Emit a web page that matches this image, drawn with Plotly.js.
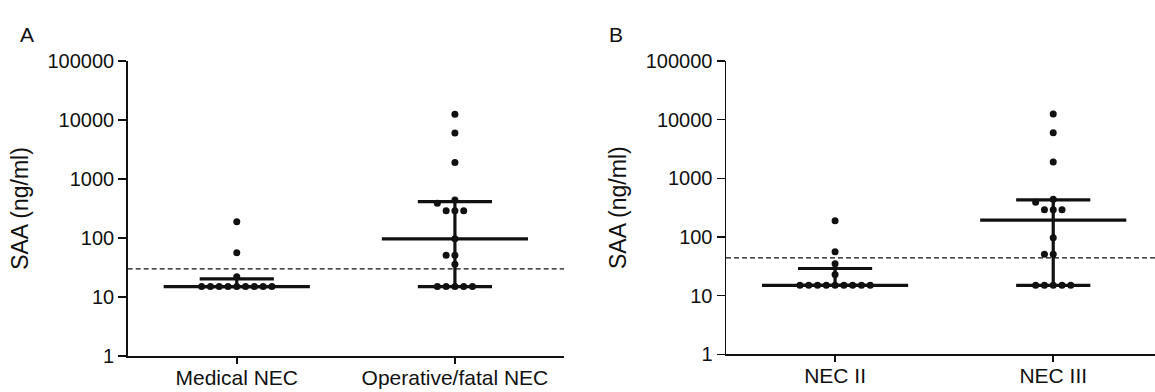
<!DOCTYPE html>
<html><head><meta charset="utf-8">
<script src="https://cdn.plot.ly/plotly-3.0.1.min.js"></script>
<style>html,body{margin:0;padding:0;background:#fff;overflow:hidden}</style>
</head><body><div id="chart" style="width:1155px;height:392px"></div>
<script>
// ---- data ----
const groupsA = ["Medical NEC", "Operative/fatal NEC"];
const medicalNEC = [15,15,15,15,15,15,15,15,15,22,56,189];
const operativeNEC = [15,15,15,15,15,36,51,51,97,290,290,290,390,440,1900,6000,12500];
const groupsB = ["NEC II", "NEC III"];
const necII = [15,15,15,15,15,15,15,15,15,23,35,56,189];
const necIII = [15,15,15,15,15,51,51,97,290,290,290,390,440,1900,6000,12500];
const cutoffA = 30;
const cutoffB = 44;
const yTickVals = [1,10,100,1000,10000,100000];
const yTickText = ["1","10","100","1000","10000","100000"];

// ---- helpers ----
const FONT = "Liberation Sans, Arial, sans-serif";
const INK = "#111";
function quant(arr, p){
  const s=[...arr].sort((a,b)=>a-b), n=s.length, pos=p*(n+1);
  const lo=Math.floor(pos), f=pos-lo;
  if(lo<1) return s[0]; if(lo>=n) return s[n-1];
  return s[lo-1]+f*(s[lo]-s[lo-1]);
}
// simple beeswarm: slots 0,-1,+1,-2,+2... avoiding overlap in pixel space
const PX_PER_DECADE = 59, PX_PER_CAT = 218.4, SLOT_PX = 8.8, MIN_DIST = 8;
function swarm(values){
  const s=[...values].sort((a,b)=>a-b);
  const placed=[]; const out=[];
  const order=[0,-1,1,-2,2,-3,3,-4,4,-5,5,-6,6];
  for(const v of s){
    const py=Math.log10(v)*PX_PER_DECADE;
    for(const k of order){
      const px=k*SLOT_PX;
      if(placed.every(p=>Math.hypot(p[0]-px,p[1]-py)>=MIN_DIST)){
        placed.push([px,py]); out.push({v, off:px/PX_PER_CAT}); break;
      }
    }
  }
  return out;
}
function groupTraces(values, idx, xa, ya){
  const pts=swarm(values);
  const med=quant(values,0.5), q1=quant(values,0.25), q3=quant(values,0.75);
  const line={color:INK,width:3.2};
  const base={xaxis:xa,yaxis:ya,mode:"lines",line,hoverinfo:"skip",showlegend:false};
  return [
    Object.assign({},base,{x:[idx,idx],y:[q1,q3]}),
    Object.assign({},base,{x:[idx-0.17,idx+0.17],y:[q1,q1]}),
    Object.assign({},base,{x:[idx-0.17,idx+0.17],y:[q3,q3]}),
    Object.assign({},base,{x:[idx-0.335,idx+0.335],y:[med,med]}),
    {xaxis:xa,yaxis:ya,type:"scatter",mode:"markers",showlegend:false,
     x:pts.map(p=>idx+p.off), y:pts.map(p=>p.v),
     marker:{color:INK,size:7,line:{width:0}}}
  ];
}
function cutoffTrace(val, xa, ya){
  return {xaxis:xa,yaxis:ya,mode:"lines",x:[-0.5,1.5],y:[val,val],showlegend:false,
    hoverinfo:"skip",line:{color:INK,width:1.3,dash:"5px,3px"}};
}

const traces=[
  cutoffTrace(cutoffA,"x","y"),
  ...groupTraces(medicalNEC,0,"x","y"),
  ...groupTraces(operativeNEC,1,"x","y"),
  cutoffTrace(cutoffB,"x2","y2"),
  ...groupTraces(necII,0,"x2","y2"),
  ...groupTraces(necIII,1,"x2","y2")
];

function xAxis(domain, range, labels, anchor){
  return {domain, range, anchor, tickmode:"array", tickvals:[0,1], ticktext:labels,
    showline:true, linecolor:INK, linewidth:1.5, ticks:"outside", ticklen:6, tickwidth:1.5,
    tickcolor:INK, showgrid:false, zeroline:false, tickfont:{family:FONT,size:21,color:INK},
    ticklabelstandoff:-4, fixedrange:true};
}
function yAxis(domain, anchor){
  return {domain, anchor, type:"log", range:[0,5], tickmode:"array", tickvals:yTickVals, ticktext:yTickText,
    showline:true, linecolor:INK, linewidth:1.5, ticks:"outside", ticklen:8, tickwidth:1.5,
    tickcolor:INK, showgrid:false, zeroline:false, tickfont:{family:FONT,size:20,color:INK},
    title:{text:"SAA (ng/ml)", font:{family:FONT,size:23,color:INK}, standoff:12},
    fixedrange:true};
}

const W=1155,H=392;
const layout={
  width:W, height:H, margin:{l:0,r:0,t:0,b:0}, paper_bgcolor:"#fff", plot_bgcolor:"#fff",
  font:{family:FONT,color:INK},
  xaxis: xAxis([127.7/W, 564/W], [-0.5,1.5], groupsA, "y"),
  yaxis: yAxis([(H-356)/H, (H-61)/H], "x"),
  xaxis2: xAxis([726/W, 1], [-0.5, 1+(1155-1053.3)/218], groupsB, "y2"),
  yaxis2: yAxis([(H-354.3)/H, (H-61)/H], "x2"),
  annotations:[
    {text:"A", xref:"paper", yref:"paper", x:18/W, y:1-21/H, showarrow:false, font:{family:FONT,size:21,color:INK}},
    {text:"B", xref:"paper", yref:"paper", x:616/W, y:1-21/H, showarrow:false, font:{family:FONT,size:21,color:INK}}
  ]
};
Plotly.newPlot("chart", traces, layout, {displayModeBar:false, staticPlot:true});
</script></body></html>
